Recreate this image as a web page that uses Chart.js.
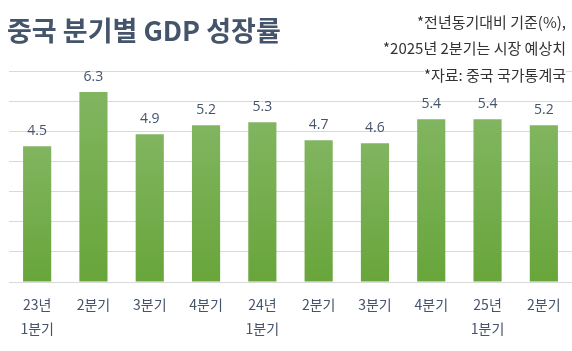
<!DOCTYPE html>
<html>
<head>
<meta charset="utf-8">
<script src="https://cdn.jsdelivr.net/npm/chart.js@4/dist/chart.umd.min.js"></script>
<style>
  html, body { margin: 0; padding: 0; background: #fff; }
  #wrap { position: relative; width: 572px; height: 351px; overflow: hidden; }
  #title {
    position: absolute; left: 7px; top: 16px;
    font: bold 27px "Noto Sans CJK KR", sans-serif; color: #44546a;
    white-space: nowrap; line-height: 1;
  }
  .note {
    position: absolute; right: 6px;
    font: 15px "Noto Sans CJK KR", sans-serif; color: #333;
    white-space: nowrap; line-height: 1; background: #fff;
  }
</style>
</head>
<body>
<div id="wrap">
  <canvas id="growthChart" width="572" height="351"></canvas>
  <div id="title">중국 분기별 GDP 성장률</div>
  <div class="note" style="top:14px">*전년동기대비 기준(%),</div>
  <div class="note" style="top:40px">*2025년 2분기는 시장 예상치</div>
  <div class="note" style="top:67px">*자료: 중국 국가통계국</div>
</div>
<script>
/* --------------- Data --------------------- */
const quarters = [
  ["23년", "1분기"], "2분기", "3분기", "4분기",
  ["24년", "1분기"], "2분기", "3분기", "4분기",
  ["25년", "1분기"], "2분기"
];
const growth = [4.5, 6.3, 4.9, 5.2, 5.3, 4.7, 4.6, 5.4, 5.4, 5.2];

/* --------------- Bar gradient --------------------- */
const barFill = (context) => {
  const chart = context.chart;
  const area = chart.chartArea;
  if (!area) return "#72ab48";
  const yScale = chart.scales.y;
  const top = yScale.getPixelForValue(context.raw);
  const bottom = yScale.getPixelForValue(0);
  const grad = chart.ctx.createLinearGradient(0, top, 0, bottom);
  grad.addColorStop(0, "#81b560");
  grad.addColorStop(1, "#68a53a");
  return grad;
};

/* --------------- Value labels --------------------- */
const valueLabels = {
  id: "valueLabels",
  afterDatasetsDraw(chart) {
    const ctx = chart.ctx;
    const meta = chart.getDatasetMeta(0);
    ctx.save();
    ctx.font = '14px "Open Sans", sans-serif';
    ctx.fillStyle = "#44546a";
    ctx.textAlign = "center";
    ctx.textBaseline = "middle";
    meta.data.forEach((bar, i) => {
      ctx.fillText(growth[i].toFixed(1), bar.x, bar.y - 15);
    });
    ctx.restore();
  }
};

/* --------------- Chart --------------------- */
new Chart(document.getElementById("growthChart"), {
  type: "bar",
  plugins: [valueLabels],
  data: {
    labels: quarters,
    datasets: [{
      data: growth,
      backgroundColor: barFill,
      categoryPercentage: 1,
      barPercentage: 0.5
    }]
  },
  options: {
    responsive: false,
    animation: false,
    layout: { padding: { top: 71, left: 9, right: 0, bottom: 0 } },
    plugins: {
      legend: { display: false },
      tooltip: { enabled: false }
    },
    scales: {
      x: {
        grid: { display: false, drawTicks: false },
        border: { color: "#d9d9d9" },
        ticks: {
          color: "#44546a",
          padding: 10,
          maxRotation: 0,
          autoSkip: false,
          font: { size: 14, family: '"Noto Sans CJK KR", sans-serif', lineHeight: 1.75 }
        }
      },
      y: {
        min: 0, max: 7,
        ticks: { display: false, stepSize: 1 },
        grid: { color: "#d9d9d9", drawTicks: false },
        border: { display: false }
      }
    }
  }
});
</script>
</body>
</html>
